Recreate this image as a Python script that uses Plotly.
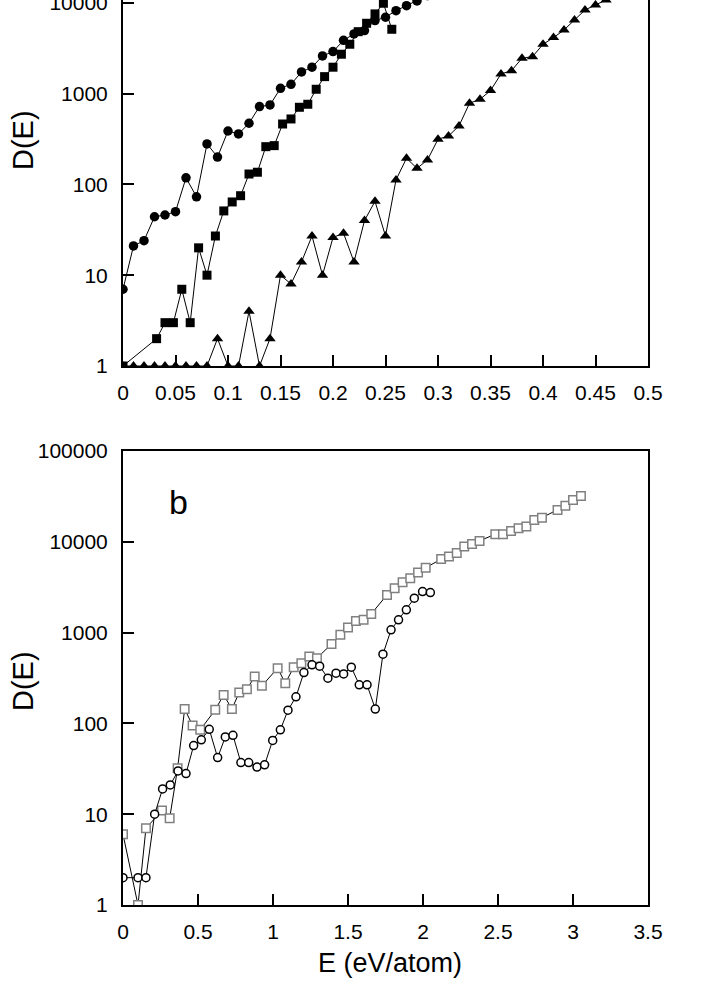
import plotly.graph_objects as go

# ---------------- data: panel a (top) ----------------
a_circ_E = [0.00, 0.01, 0.02, 0.03, 0.04, 0.05, 0.06, 0.07, 0.08, 0.09,
            0.10, 0.11, 0.12, 0.13, 0.14, 0.15, 0.16, 0.17, 0.18, 0.19,
            0.20, 0.21, 0.22, 0.23, 0.24, 0.25, 0.26, 0.27, 0.28, 0.29]
a_circ_D = [7, 21, 24, 44, 46, 50, 118, 73, 279, 200,
            387, 359, 471, 718, 749, 1143, 1265, 1729, 1950, 2594,
            2896, 3850, 4534, 4930, 6353, 6920, 8180, 9290, 10470, 12000]

a_sq_E = [0.000, 0.032, 0.040, 0.048, 0.056, 0.064, 0.072, 0.080, 0.088, 0.096,
          0.104, 0.112, 0.120, 0.128, 0.136, 0.144, 0.152, 0.160, 0.168, 0.176,
          0.184, 0.192, 0.200, 0.208, 0.216, 0.224, 0.232, 0.240, 0.248, 0.256]
a_sq_D = [1, 2, 3, 3, 7, 3, 20, 10, 27, 51,
          64, 75, 130, 136, 260, 267, 462, 525, 706, 762,
          1115, 1535, 1950, 2710, 3490, 4800, 5940, 7530, 9870, 5100]

a_tri_E = [0.00, 0.01, 0.02, 0.03, 0.04, 0.05, 0.06, 0.07, 0.08, 0.09,
           0.10, 0.11, 0.12, 0.13, 0.14, 0.15, 0.16, 0.17, 0.18, 0.19,
           0.20, 0.21, 0.22, 0.23, 0.24, 0.25, 0.26, 0.27, 0.28, 0.29,
           0.30, 0.31, 0.32, 0.33, 0.34, 0.35, 0.36, 0.37, 0.38, 0.39,
           0.40, 0.41, 0.42, 0.43, 0.44, 0.45, 0.46, 0.47]
a_tri_D = [1, 1, 1, 1, 1, 1, 1, 1, 1, 2,
           1, 1, 4, 1, 2, 10, 8, 14, 27, 10,
           26, 29, 14, 40, 65, 27, 112, 194, 150, 186,
           314, 341, 440, 782, 865, 1077, 1644, 1787, 2448, 2549,
           3483, 4129, 5012, 6461, 8318, 9455, 10700, 12500]

# ---------------- data: panel b (bottom) ----------------
b_sq_E = [0, 0.1, 0.153, 0.26, 0.311, 0.364, 0.411, 0.464, 0.515, 0.615,
          0.671, 0.726, 0.775, 0.826, 0.878, 0.926, 1.031, 1.082, 1.138, 1.189,
          1.242, 1.293, 1.39, 1.449, 1.5, 1.553, 1.604, 1.655, 1.76, 1.811,
          1.864, 1.915, 1.967, 2.018, 2.121, 2.173, 2.225, 2.275, 2.327, 2.377,
          2.482, 2.533, 2.587, 2.637, 2.689, 2.742, 2.793, 2.897, 2.949, 3.0,
          3.053]
b_sq_D = [6, 1, 7, 11, 9, 32, 144, 95, 85, 141,
          206, 144, 219, 238, 328, 259, 406, 277, 415, 461,
          545, 523, 748, 944, 1135, 1345, 1381, 1607, 2600, 3080,
          3590, 3970, 4580, 5180, 6450, 6870, 7540, 8850, 9480, 10230,
          12100, 12100, 13180, 14100, 14700, 17400, 18400, 22400, 25000, 28900,
          32000]

b_circ_E = [0, 0.1, 0.153, 0.211, 0.264, 0.315, 0.367, 0.42, 0.471, 0.522,
            0.575, 0.631, 0.682, 0.733, 0.786, 0.838, 0.893, 0.944, 0.998, 1.049,
            1.1, 1.153, 1.206, 1.26, 1.311, 1.366, 1.42, 1.471, 1.522, 1.575,
            1.627, 1.682, 1.733, 1.787, 1.837, 1.889, 1.942, 1.997, 2.049]
b_circ_D = [2, 2, 2, 10, 19, 21, 30, 28, 57, 66,
            86, 42, 71, 74, 37, 37, 33, 35, 65, 85,
            140, 196, 363, 442, 427, 315, 357, 351, 416, 266,
            266, 144, 578, 1072, 1381, 1780, 2392, 2830, 2760]

# ticks
y_tickvals = [1, 10, 100, 1000, 10000, 100000]
y_ticktext = ["1", "10", "100", "1000", "10000", "100000"]
a_xticks = [0, 0.05, 0.1, 0.15, 0.2, 0.25, 0.3, 0.35, 0.4, 0.45, 0.5]
b_xticks = [0, 0.5, 1, 1.5, 2, 2.5, 3, 3.5]

FONT = "Liberation Sans, Arial, Helvetica, sans-serif"
W, H = 708, 981
ML, MR, MT, MB = 123, 60, 0, 76
PW, PH = W - ML - MR, H - MT - MB


def px(xp):
    return (xp - ML) / PW


def py(yp):
    return (H - MB - yp) / PH


fig = go.Figure()

line = dict(color="black", width=1)

fig.add_trace(go.Scatter(x=a_circ_E, y=a_circ_D, mode="lines+markers",
                         line=line, xaxis="x", yaxis="y",
                         marker=dict(symbol="circle", size=9.5, color="black"),
                         showlegend=False))
fig.add_trace(go.Scatter(x=a_sq_E, y=a_sq_D, mode="lines+markers",
                         line=line, xaxis="x", yaxis="y",
                         marker=dict(symbol="square", size=9, color="black"),
                         showlegend=False))
fig.add_trace(go.Scatter(x=a_tri_E, y=a_tri_D, mode="lines+markers",
                         line=line, xaxis="x", yaxis="y",
                         marker=dict(symbol="triangle-up", size=10, color="black"),
                         showlegend=False))

fig.add_trace(go.Scatter(x=b_sq_E, y=b_sq_D, mode="lines+markers",
                         line=line, xaxis="x2", yaxis="y2",
                         marker=dict(symbol="square", size=8.5, color="white",
                                     line=dict(color="#808080", width=1.5)),
                         showlegend=False))
fig.add_trace(go.Scatter(x=b_circ_E, y=b_circ_D, mode="lines+markers",
                         line=line, xaxis="x2", yaxis="y2",
                         marker=dict(symbol="circle", size=8, color="white",
                                     line=dict(color="black", width=1.5)),
                         showlegend=False))

tickfont = dict(family=FONT, size=21, color="black")
common_x = dict(showline=True, linecolor="black", linewidth=2, ticks="inside",
                ticklen=11, tickwidth=1.5, tickcolor="black", showgrid=False,
                zeroline=False, tickfont=tickfont, ticklabelstandoff=7,
                automargin=False, ticklabeloverflow="allow")
common_y = dict(type="log", showline=True, linecolor="black", linewidth=2,
                ticks="inside", ticklen=11, tickwidth=1.5, tickcolor="black",
                showgrid=False, zeroline=False, tickfont=tickfont,
                tickvals=y_tickvals, ticktext=y_ticktext, mirror=True,
                ticklabelstandoff=9, automargin=False, ticklabeloverflow="allow")

title_font = dict(family=FONT, size=29, color="black")

fig.update_layout(
    width=W, height=H,
    margin=dict(l=ML, r=MR, t=MT, b=MB, pad=0, autoexpand=False),
    paper_bgcolor="white", plot_bgcolor="white",
    xaxis=dict(common_x, domain=[0, 1], range=[0, 0.5], anchor="y",
               tickvals=a_xticks, mirror=False),
    yaxis=dict(common_y, domain=[py(366), 1], range=[0, 4.03], anchor="x"),
    xaxis2=dict(common_x, domain=[0, 1], range=[0, 3.5], anchor="y2",
                tickvals=b_xticks, mirror=True),
    yaxis2=dict(common_y, domain=[0, py(451)], range=[0, 5], anchor="x2"),
    annotations=[
        dict(text="D(E)", x=px(23), y=py(140), xref="paper", yref="paper",
             xanchor="center", yanchor="middle",
             textangle=-90, showarrow=False, font=title_font),
        dict(text="D(E)", x=px(23), y=py(681), xref="paper", yref="paper",
             xanchor="center", yanchor="middle",
             textangle=-90, showarrow=False, font=title_font),
        dict(text="E (eV/atom)", x=px(390), y=py(963), xref="paper", yref="paper",
             xanchor="center", yanchor="middle", showarrow=False,
             font=dict(family=FONT, size=27, color="black")),
        dict(text="b", x=px(178), y=py(502), xref="paper", yref="paper",
             xanchor="center", yanchor="middle", showarrow=False,
             font=dict(family=FONT, size=34, color="black")),
    ],
)

fig.write_html("out.html",
               config={"displayModeBar": False},
               post_script="document.body.style.margin='0';"
                           "document.body.style.padding='0';")
